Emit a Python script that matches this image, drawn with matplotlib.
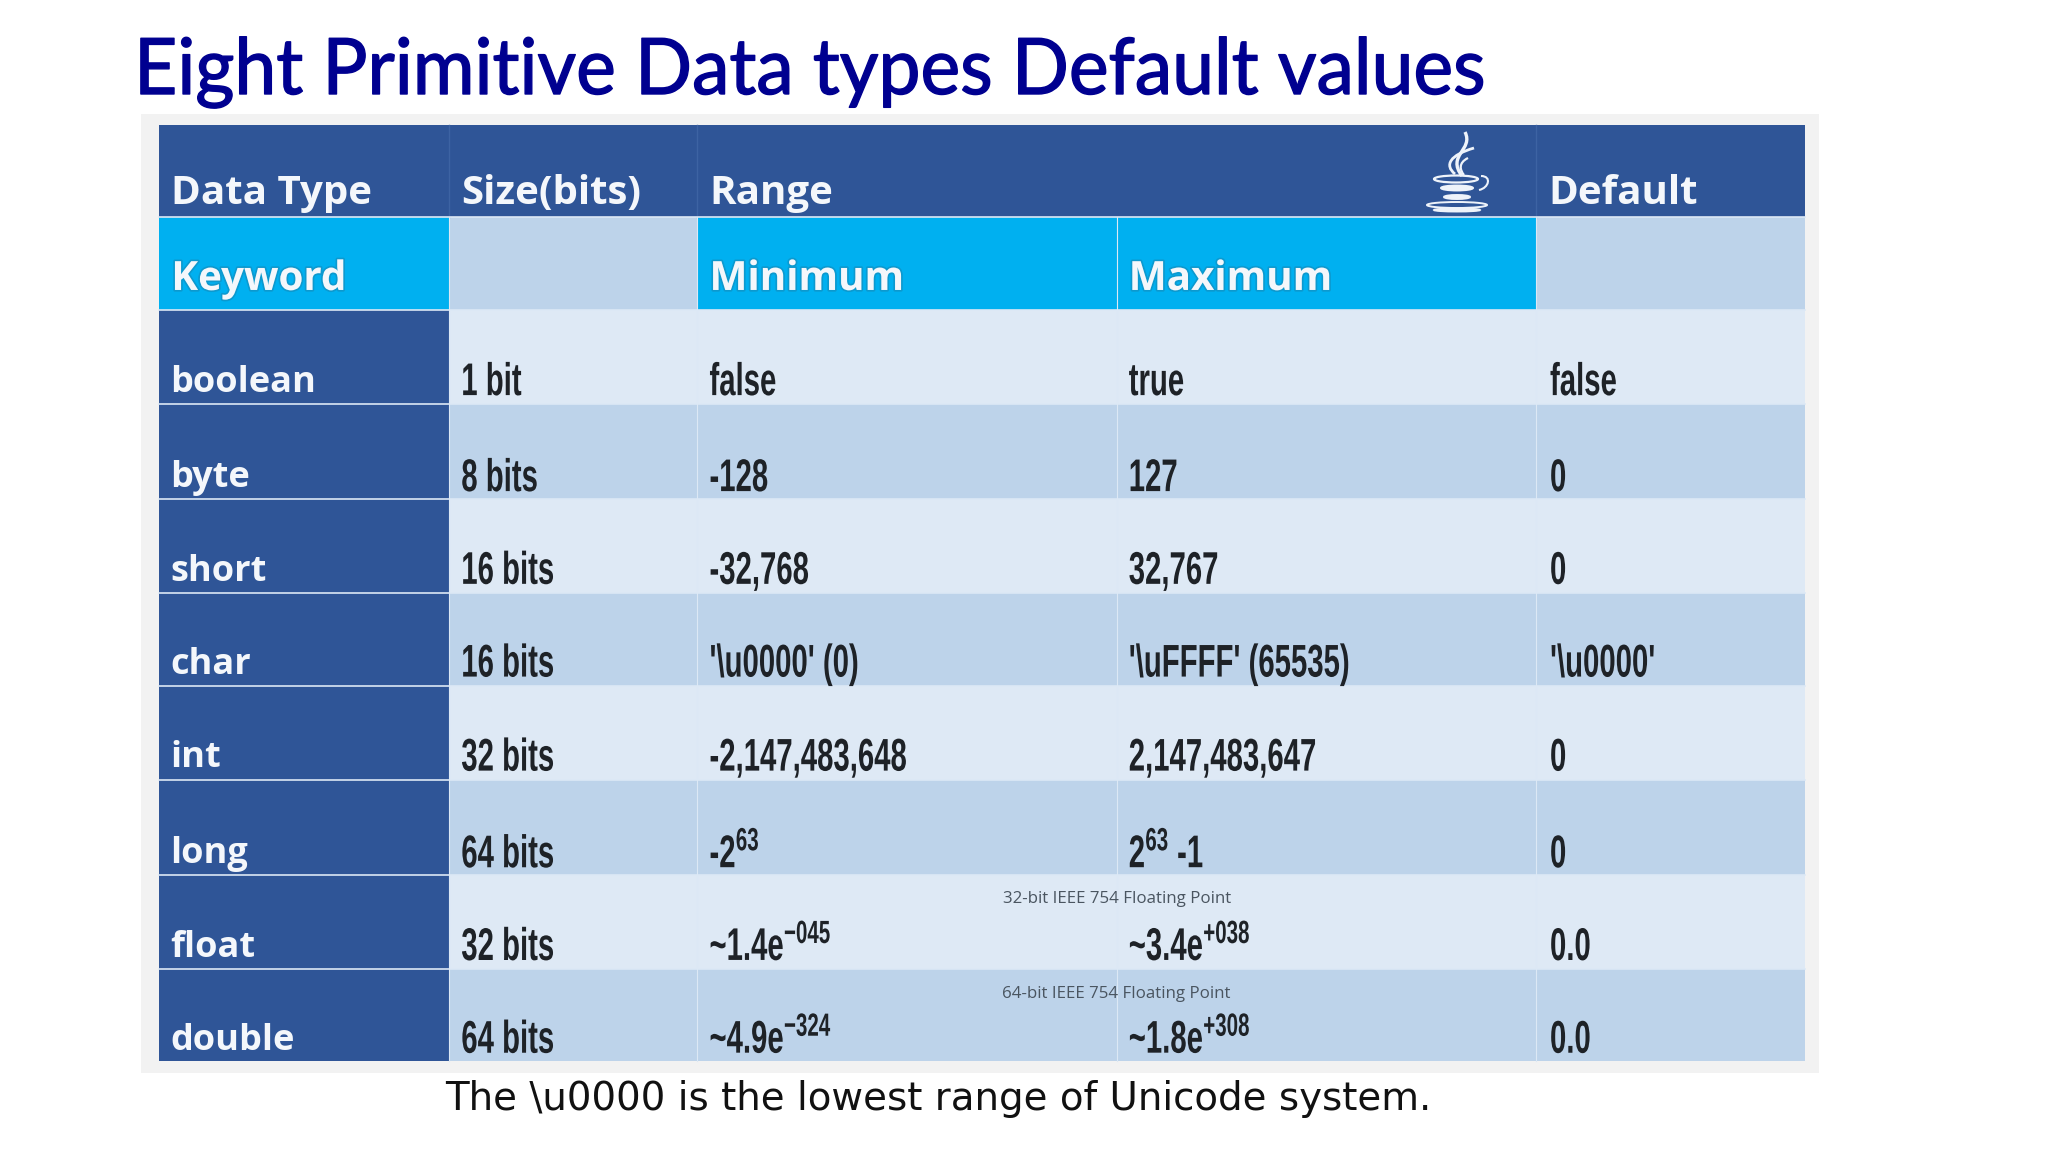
import matplotlib
matplotlib.use("Agg")
import matplotlib.pyplot as plt
from matplotlib.patches import Rectangle, Ellipse, PathPatch
from matplotlib.path import Path
from matplotlib.patheffects import AbstractPathEffect, withStroke
from matplotlib.text import Text
from matplotlib.transforms import Affine2D, Bbox

plt.rcParams["mathtext.fontset"] = "custom"
plt.rcParams["mathtext.rm"] = "Liberation Sans:bold"
plt.rcParams["mathtext.bf"] = "Liberation Sans:bold"
plt.rcParams["mathtext.it"] = "Liberation Sans:bold"
plt.rcParams["mathtext.default"] = "rm"

keywords = ["boolean", "byte", "short", "char", "int", "long", "float", "double"]
sizes = ["1 bit", "8 bits", "16 bits", "16 bits", "32 bits", "64 bits", "32 bits", "64 bits"]
minimums = ["false", "-128", "-32,768", "'\\u0000' (0)", "-2,147,483,648",
            "-2$^{63}$", "~1.4e$^{-045}$", "~4.9e$^{-324}$"]
maximums = ["true", "127", "32,767", "'\\uFFFF' (65535)", "2,147,483,647",
            "2$^{63}$ -1", "~3.4e$^{+038}$", "~1.8e$^{+308}$"]
defaults = ["false", "0", "0", "'\\u0000'", "0", "0", "0.0", "0.0"]

S = 2048 / 1568
col_x = [v * S for v in [122, 344, 534, 855, 1176, 1382]]
row_y = [v * S for v in [96, 166, 237, 309, 382, 454, 525, 597, 670, 742, 812]]
kw_base = [v * S for v in [300, 373, 445, 516, 587, 661, 733, 804]]
cell_base = [v * S for v in [302.5, 376, 447, 518, 590, 664, 735, 806]]

NAVY, CYAN, LIGHT, MID = "#2F5597", "#00B0F0", "#DEE9F5", "#BDD3EA"


class Squeeze(AbstractPathEffect):
    """Draw a text narrower than its font, around the text's own origin."""

    def __init__(self, k, stroke=0.0):
        super().__init__()
        self.k = k
        self.stroke = stroke

    def draw_path(self, renderer, gc, tpath, affine, rgbFace=None):
        tr = Affine2D().scale(self.k, 1) + affine
        if self.stroke and rgbFace is not None:
            g = renderer.new_gc()
            g.copy_properties(gc)
            g.set_linewidth(self.stroke)
            g.set_foreground(rgbFace)
            renderer.draw_path(g, tpath, tr, rgbFace)
            g.restore()
        else:
            renderer.draw_path(gc, tpath, tr, rgbFace)


class NarrowText(Text):
    """A left-aligned text drawn narrower; its extent reports the drawn width."""

    def __init__(self, x, y, s, k=1.0, stroke=0.0, **kw):
        super().__init__(x, y, s, path_effects=[Squeeze(k, stroke)], **kw)
        self._k = k

    def get_window_extent(self, renderer=None, dpi=None):
        b = super().get_window_extent(renderer, dpi)
        return Bbox.from_extents(b.x0, b.y0, b.x0 + b.width * self._k, b.y1)


fig = plt.figure(figsize=(20.48, 11.52), dpi=100, facecolor="white")
ax = fig.add_axes([0, 0, 1, 1])
ax.set_xlim(0, 2048)
ax.set_ylim(1152, 0)
ax.axis("off")


def rect(x0, x1, y0, y1, color, z=1):
    ax.add_patch(Rectangle((x0, y0), x1 - x0, y1 - y0, facecolor=color, edgecolor="none", zorder=z))


rect(141, 1819, 114, 1073, "#F2F2F2", 0)
rect(col_x[0], col_x[5], row_y[0], row_y[1], NAVY)
for x in col_x[1:3] + col_x[4:5]:
    ax.plot([x, x], [row_y[0], row_y[1]], color="#3D63A3", lw=1, zorder=2)
rect(col_x[0], col_x[1], row_y[1], row_y[2], CYAN)
rect(col_x[1], col_x[2], row_y[1], row_y[2], MID)
rect(col_x[2], col_x[4], row_y[1], row_y[2], CYAN)
rect(col_x[4], col_x[5], row_y[1], row_y[2], MID)
for i in range(len(keywords)):
    y0, y1 = row_y[i + 2], row_y[i + 3]
    rect(col_x[0], col_x[1], y0, y1, NAVY)
    rect(col_x[1], col_x[5], y0, y1, LIGHT if i % 2 == 0 else MID)
for y in row_y[1:-1]:
    ax.plot([col_x[0], col_x[5]], [y, y], color="#DCE8F5", lw=1.2, zorder=2)
for x in col_x[1:5]:
    ax.plot([x, x], [row_y[1], row_y[-1]], color="#DCE8F5", lw=0.8, zorder=2)

HEAD = dict(family="Open Sans", weight="bold", color="#F4F7FB", va="baseline", zorder=5)
PAD = 12
for x, s in zip([col_x[0], col_x[1], col_x[2], col_x[4]], ["Data Type", "Size(bits)", "Range", "Default"]):
    ax.text(x + PAD, 156 * S, s, fontsize=29, **HEAD)
shadow = [withStroke(linewidth=2.5, foreground="#1B7FA8", alpha=0.45)]
for x, s in zip([col_x[0], col_x[2], col_x[3]], ["Keyword", "Minimum", "Maximum"]):
    ax.text(x + PAD, 222 * S, s, fontsize=29, path_effects=shadow, **HEAD)
for s, b in zip(keywords, kw_base):
    ax.text(col_x[0] + PAD - 1, b, s, fontsize=26, **HEAD)

K = 0.64
CELL = dict(family="Liberation Sans", weight="bold", color="#1E2227", va="baseline", zorder=5)


def put(x, y, s):
    ax.add_artist(NarrowText(x, y, s, k=K, fontsize=33, **CELL))


for i, b in enumerate(cell_base):
    put(col_x[1] + PAD, b, sizes[i])
    put(col_x[2] + PAD, b, minimums[i])
    put(col_x[3] + PAD, b, maximums[i])
    put(col_x[4] + PAD + 2, b, defaults[i])

for s, y in zip(["32-bit IEEE 754 Floating Point", "64-bit IEEE 754 Floating Point"], [691, 764]):
    ax.text(col_x[3], y * S, s, family="Open Sans", fontsize=12.2, color="#4A5560",
            ha="center", va="baseline", zorder=5)

ax.add_artist(NarrowText(134, 94, "Eight Primitive Data types Default values", k=0.965, stroke=1.0,
                         family="Lato", fontsize=56, color="#000090", va="baseline", zorder=5))
ax.text(445, 850 * S, "The \\u0000 is the lowest range of Unicode system.", family="DejaVu Sans",
        fontsize=27.9, color="#111111", va="baseline", zorder=5)

# Java cup emblem in the header
LOGO = "#EEF3FA"
for verts, lw in [([(1465, 132), (1474, 150), (1446, 155), (1462, 176)], 2.4),
                  ([(1474, 148), (1450, 155), (1444, 165), (1455, 174)], 2.0),
                  ([(1468, 158), (1458, 163), (1460, 170), (1464, 175)], 1.6)]:
    ax.add_patch(PathPatch(Path(verts, [Path.MOVETO, Path.CURVE4, Path.CURVE4, Path.CURVE4]),
                           facecolor="none", edgecolor=LOGO, lw=lw, zorder=5))
ax.add_patch(PathPatch(Path([(1481, 176), (1492, 176), (1489, 188), (1479, 190)],
                            [Path.MOVETO, Path.CURVE4, Path.CURVE4, Path.CURVE4]),
                       facecolor="none", edgecolor=LOGO, lw=1.5, zorder=5))
ax.add_patch(Ellipse((1456, 179), 44, 7, facecolor="none", edgecolor=LOGO, lw=1.6, zorder=5))
for y, w, h, fc in [(188, 32, 5, LOGO), (197, 26, 4, LOGO), (205, 60, 6, "none"), (210, 46, 3, LOGO)]:
    ax.add_patch(Ellipse((1457, y), w, h, facecolor=fc, edgecolor=LOGO, lw=1.4, zorder=5))

fig.savefig("out.png", dpi=100, facecolor="white")
